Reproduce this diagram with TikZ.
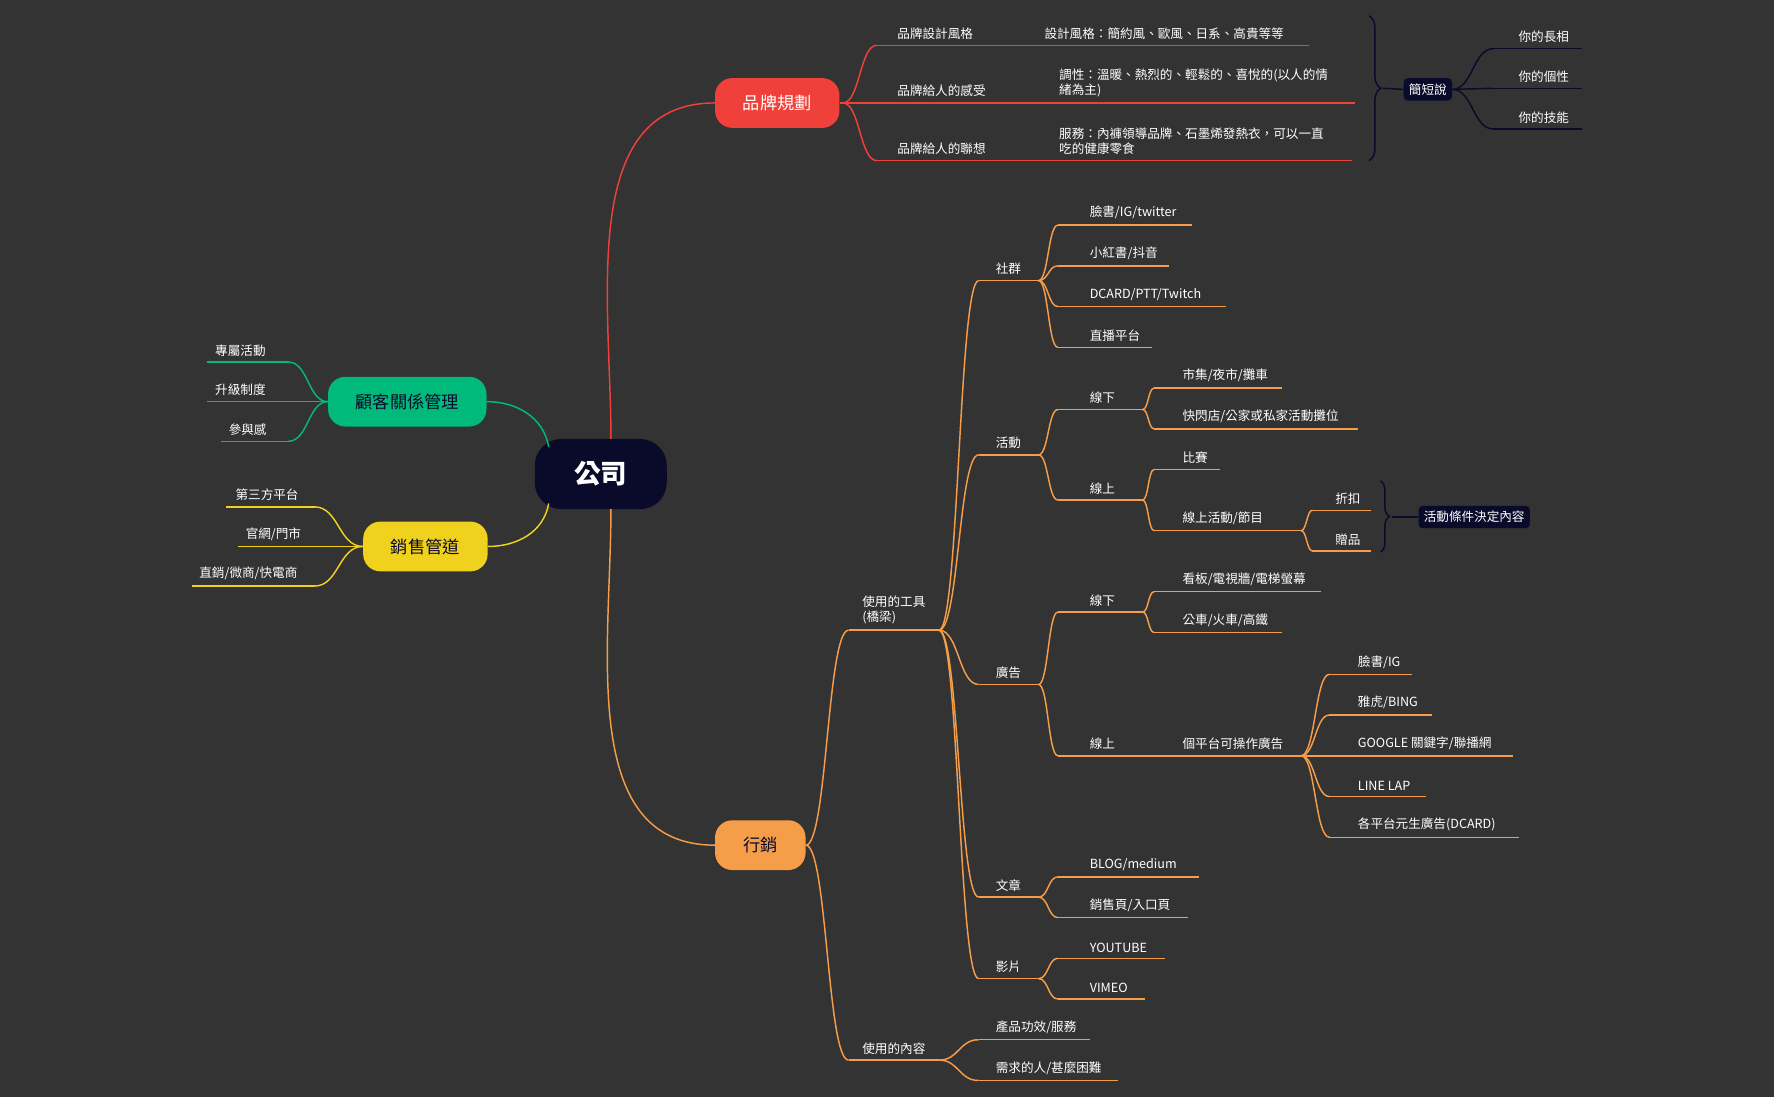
\documentclass[tikz,border=0pt]{standalone}
\usepackage{fontspec}
\setmainfont{Noto Sans CJK TC}
\usetikzlibrary{decorations.pathreplacing,calc}
\definecolor{bg}{HTML}{333333}
\definecolor{navy}{HTML}{0A0A2A}
\definecolor{cred}{HTML}{F0403A}
\definecolor{cgreen}{HTML}{00BA7C}
\definecolor{cyel}{HTML}{F0D21E}
\definecolor{corg}{HTML}{F59D48}
\tikzset{
 x=0.03cm,y=-0.03cm,
 ln/.style={line width=1.1pt},
 txt/.style={text=white,font=\fontsize{9.5}{11.5}\selectfont,inner sep=0pt,anchor=south west,align=left},
 pill/.style={rounded corners=13pt,minimum height=1.32cm,font=\fontsize{13}{15}\selectfont,inner sep=0pt},
 dark/.style={fill=navy,text=white,rounded corners=3pt,font=\fontsize{9.5}{11}\selectfont,inner sep=4pt},
}
% name, x1, x2, y, textx, text, colour
\newcommand{\lf}[7]{\coordinate (#1) at (#2,#4);\coordinate (#1-e) at (#3,#4);
 \draw[ln,#7] (#1)--(#1-e);\node[txt] (#1-t) at (#5,#4-5) {#6};}
\newcommand{\cn}[3]{\draw[ln,#3] (#1) let \p1=(#1),\p2=(#2) in .. controls ({0.5*\x1+0.5*\x2},\y1) and ({0.5*\x1+0.5*\x2},\y2) .. (#2);}
\newcommand{\cl}[3]{\cn{#1}{#2}{#3}}
\begin{document}
\begin{tikzpicture}
\fill[bg] (0,0) rectangle (1568,970);
\useasboundingbox (0,0) rectangle (1568,970);
% centre
\node[fill=navy,text=white,rounded corners=20pt,minimum width=3.5cm,minimum height=1.86cm,font=\fontsize{20}{22}\selectfont\bfseries] (c) at (531,419) {公司};
\node[pill,fill=cred,text=white,minimum width=3.3cm] (red) at (687,91) {品牌規劃};
\node[pill,fill=cgreen,text=navy,minimum width=4.2cm] (grn) at (360,355) {顧客關係管理};
\node[pill,fill=cyel,text=navy,minimum width=3.3cm] (yel) at (376,483) {銷售管道};
\node[pill,fill=corg,text=navy,minimum width=2.4cm] (org) at (672,747) {行銷};
\draw[ln,cred] (540,388) to[out=90,in=180] (red.west);
\draw[ln,corg] (540,450) to[out=-90,in=180] (org.west);
\draw[ln,cgreen] (485,395) to[out=100,in=0] (grn.east);
\draw[ln,cyel] (485,445) to[out=-100,in=0] (yel.east);
% red
\coordinate (r0) at (745,91);
\lf{r1}{775}{1157}{40}{793}{品牌設計風格}{cred}
\node[txt] at (923,35) {設計風格：簡約風、歐風、日系、高貴等等};
\lf{r2}{775}{1198}{91}{793}{品牌給人的感受}{cred}
\node[txt] at (936,86) {調性：溫暖、熱烈的、輕鬆的、喜悅的(以人的情\\緒為主)};
\lf{r3}{775}{1195}{142}{793}{品牌給人的聯想}{cred}
\node[txt] at (936,137) {服務：內褲領導品牌、石墨烯發熱衣，可以一直\\吃的健康零食};
\draw[ln,cred] (red.east)--(r0);
\cn{r0}{r1}{cred}\cn{r0}{r2}{cred}\cn{r0}{r3}{cred}
\draw[ln,navy,decorate,decoration={brace,amplitude=9pt}] (1210,14)--(1210,142);
\node[dark] (jd) at (1262,79) {簡短說};
\draw[ln,navy] (1222,78)--(jd.west);
\coordinate (j0) at (jd.east);
\lf{j1}{1320}{1398}{43}{1342}{你的長相}{navy}
\lf{j2}{1320}{1398}{78}{1342}{你的個性}{navy}
\lf{j3}{1320}{1398}{114}{1342}{你的技能}{navy}
\cn{j0}{j1}{navy}\cn{j0}{j2}{navy}\cn{j0}{j3}{navy}
% green
\coordinate (g0) at (grn.west);
\lf{g1}{255}{183}{320}{190}{專屬活動}{cgreen}
\lf{g2}{285}{183}{355}{190}{升級制度}{cgreen}
\lf{g3}{255}{195}{390}{202}{參與感}{cgreen}
\cl{g0}{g1}{cgreen}\draw[ln,cgreen] (g0)--(g2);\cl{g0}{g3}{cgreen}
% yellow
\coordinate (y0) at (yel.west);
\lf{y1}{278}{200}{448}{208}{第三方平台}{cyel}
\lf{y2}{310}{210}{483}{217}{官網/門市}{cyel}
\lf{y3}{278}{170}{518}{176}{直銷/微商/快電商}{cyel}
\cl{y0}{y1}{cyel}\draw[ln,cyel] (y0)--(y2);\cl{y0}{y3}{cyel}
% orange
\lf{o1}{750}{830}{557}{762}{使用的工具\\(橋梁)}{corg}
\lf{o2}{750}{830}{937}{762}{使用的內容}{corg}
\cn{org.east}{o1}{corg}\cn{org.east}{o2}{corg}
\lf{t1}{865}{918}{248}{880}{社群}{corg}
\lf{t2}{865}{918}{402}{880}{活動}{corg}
\lf{t3}{865}{918}{605}{880}{廣告}{corg}
\lf{t4}{865}{918}{793}{880}{文章}{corg}
\lf{t5}{865}{918}{865}{880}{影片}{corg}
\foreach \i in {1,...,5}{\cn{o1-e}{t\i}{corg}}
\lf{s1}{935}{1054}{199}{963}{臉書/IG/twitter}{corg}
\lf{s2}{935}{1033}{235}{963}{小紅書/抖音}{corg}
\lf{s3}{935}{1084}{271}{963}{DCARD/PTT/Twitch}{corg}
\lf{s4}{935}{1018}{307}{963}{直播平台}{corg}
\foreach \i in {1,...,4}{\cn{t1-e}{s\i}{corg}}
\lf{a1}{935}{1010}{362}{963}{線下}{corg}
\lf{a2}{935}{1010}{442}{963}{線上}{corg}
\cn{t2-e}{a1}{corg}\cn{t2-e}{a2}{corg}
\lf{a11}{1020}{1133}{343}{1045}{市集/夜市/攤車}{corg}
\lf{a12}{1020}{1200}{379}{1045}{快閃店/公家或私家活動攤位}{corg}
\cn{a1-e}{a11}{corg}\cn{a1-e}{a12}{corg}
\lf{a21}{1020}{1078}{415}{1045}{比賽}{corg}
\lf{a22}{1020}{1150}{469}{1045}{線上活動/節目}{corg}
\cn{a2-e}{a21}{corg}\cn{a2-e}{a22}{corg}
\lf{d1}{1160}{1212}{451}{1180}{折扣}{corg}
\lf{d2}{1160}{1212}{487}{1180}{贈品}{corg}
\cn{a22-e}{d1}{corg}\cn{a22-e}{d2}{corg}
\draw[ln,navy,decorate,decoration={brace,amplitude=7pt}] (1220,425)--(1220,488);
\node[dark] (hd) at (1303,457) {活動條件決定內容};
\draw[ln,navy] (1230,457)--(hd.west);
\lf{b1}{935}{1010}{541}{963}{線下}{corg}
\lf{b2}{935}{1150}{668}{963}{線上}{corg}
\node[txt] at (1045,663) {個平台可操作廣告};
\cn{t3-e}{b1}{corg}\cn{t3-e}{b2}{corg}
\lf{b11}{1020}{1168}{523}{1045}{看板/電視牆/電梯螢幕}{corg}
\lf{b12}{1020}{1133}{559}{1045}{公車/火車/高鐵}{corg}
\cn{b1-e}{b11}{corg}\cn{b1-e}{b12}{corg}
\lf{e1}{1175}{1248}{596}{1200}{臉書/IG}{corg}
\lf{e2}{1175}{1266}{632}{1200}{雅虎/BING}{corg}
\lf{e3}{1175}{1337}{668}{1200}{GOOGLE 關鍵字/聯播網}{corg}
\lf{e4}{1175}{1260}{704}{1200}{LINE LAP}{corg}
\lf{e5}{1175}{1343}{740}{1200}{各平台元生廣告(DCARD)}{corg}
\foreach \i in {1,...,5}{\cn{b2-e}{e\i}{corg}}
\lf{w1}{935}{1060}{775}{963}{BLOG/medium}{corg}
\lf{w2}{935}{1050}{811}{963}{銷售頁/入口頁}{corg}
\cn{t4-e}{w1}{corg}\cn{t4-e}{w2}{corg}
\lf{v1}{935}{1030}{847}{963}{YOUTUBE}{corg}
\lf{v2}{935}{1012}{883}{963}{VIMEO}{corg}
\cn{t5-e}{v1}{corg}\cn{t5-e}{v2}{corg}
\lf{p1}{865}{963}{919}{880}{產品功效/服務}{corg}
\lf{p2}{865}{988}{955}{880}{需求的人/甚麼困難}{corg}
\cn{o2-e}{p1}{corg}\cn{o2-e}{p2}{corg}
\end{tikzpicture}
\end{document}
